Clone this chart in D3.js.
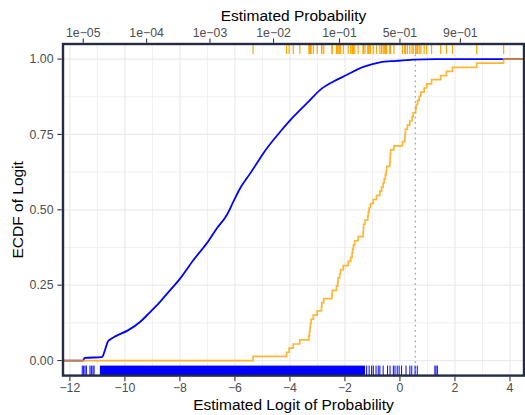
<!DOCTYPE html>
<html>
<head>
<meta charset="utf-8">
<script src="https://cdn.jsdelivr.net/npm/d3@7"></script>
<style>
  html, body { margin: 0; padding: 0; background: #ffffff; }
  svg { display: block; font-family: "Liberation Sans", Arial, Helvetica, sans-serif; }
</style>
</head>
<body>
<svg id="chart" width="525" height="415"></svg>
<script>
// Logit scores of the positive cases (orange)
const orangeLogit = [
  -5.34, -4.12, -4.03, -3.88, -3.64,
  -3.31, -3.29, -3.27, -3.25, -3.23, -3.15, -3.01, -2.85, -2.84, -2.77,
  -2.47, -2.46, -2.31, -2.26, -2.25, -2.19, -2.16, -2.06,
  -1.88, -1.79, -1.74, -1.72, -1.69, -1.64, -1.52,
  -1.34, -1.33, -1.32, -1.27, -1.17, -1.15, -1.12, -1.07, -0.97, -0.85, -0.73,
  -0.67, -0.61, -0.57, -0.53, -0.50, -0.48, -0.37, -0.36, -0.35, -0.34, -0.22,
  0.09, 0.18, 0.19, 0.20, 0.27, 0.36, 0.44, 0.48, 0.57, 0.59, 0.64, 0.70, 0.76,
  0.88, 0.97, 1.15, 1.48, 1.69, 1.91, 2.79, 3.77
];

// Empirical CDF of the negative cases (blue), large sample
const blueCurveLogit = [
  -11.52, -11.46, -10.84, -10.79, -10.72, -10.61, -10.55, -10.33, -9.89, -9.45,
  -9.09, -8.84, -8.73, -8.36, -8.00, -7.52, -7.03, -6.66, -6.30, -6.06,
  -5.82, -5.45, -5.09, -4.97, -4.36, -3.88, -3.27, -2.91, -2.43, -1.94,
  -1.33, -0.73, -0.12, 0.48, 1.31
];
const blueCurveEcdf = [
  0.000, 0.009, 0.011, 0.017, 0.036, 0.064, 0.069, 0.081, 0.100, 0.128,
  0.160, 0.183, 0.194, 0.233, 0.271, 0.332, 0.388, 0.438, 0.482, 0.526,
  0.570, 0.620, 0.670, 0.687, 0.758, 0.808, 0.864, 0.897, 0.925, 0.947,
  0.974, 0.989, 0.994, 0.998, 1.000
];

// Rug of the negative cases: isolated scores and the densely covered stretch
const blueRugTicks = [
  -11.55, -11.50, -11.45, -11.40, -11.27, -11.22, -11.16, -11.12,
  -1.21, -1.12, -1.03, -0.97, -0.87, -0.79, -0.73, -0.61, -0.45, -0.36,
  -0.24, -0.18, -0.10, -0.03, 0.06, 0.22, 0.36, 0.43, 0.55, 0.63, 1.27, 1.31, 1.36
];
const blueRugBands = [[-10.91, -1.27]];

// Axis breaks
const xTicks = [-12, -10, -8, -6, -4, -2, 0, 2, 4];
const xMinor = [-11, -9, -7, -5, -3, -1, 1, 3];
const yTicks = [0, 0.25, 0.5, 0.75, 1];
const yMinor = [0.125, 0.375, 0.625, 0.875];
const yLabels = ["0.00", "0.25", "0.50", "0.75", "1.00"];
const probTicks = [1e-5, 1e-4, 1e-3, 1e-2, 1e-1, 5e-1, 9e-1];
const probLabels = ["1e\u221205", "1e\u221204", "1e\u221203", "1e\u221202", "1e\u221201", "5e\u221201", "9e\u221201"];

// Classification cut-off on the logit scale
const cutoffLogit = 0.56;

const svg = d3.select("#chart");
const panel = { left: 63, right: 524, top: 44, bottom: 375.6 };

const x = d3.scaleLinear().domain([-12.25, 4.51]).range([panel.left, panel.right]);
const y = d3.scaleLinear().domain([-0.05, 1.05]).range([panel.bottom, panel.top]);
const logit = p => Math.log(p / (1 - p));
const minus = s => String(s).replace("-", "\u2212");

const grid = "#ebebeb";
const tickCol = "#333333";
const labelCol = "#4d4d4d";

svg.append("defs").append("clipPath").attr("id", "clip")
  .append("rect")
  .attr("x", panel.left).attr("y", panel.top)
  .attr("width", panel.right - panel.left).attr("height", panel.bottom - panel.top);

// grid
const g = svg.append("g");
g.selectAll(".xmin").data(xMinor).join("line")
  .attr("x1", d => x(d)).attr("x2", d => x(d))
  .attr("y1", panel.top).attr("y2", panel.bottom)
  .attr("stroke", "#f0f0f0").attr("stroke-width", 1);
g.selectAll(".ymin").data(yMinor).join("line")
  .attr("y1", d => y(d)).attr("y2", d => y(d))
  .attr("x1", panel.left).attr("x2", panel.right)
  .attr("stroke", "#f0f0f0").attr("stroke-width", 1);
g.selectAll(".xmaj").data(xTicks).join("line")
  .attr("x1", d => x(d)).attr("x2", d => x(d))
  .attr("y1", panel.top).attr("y2", panel.bottom)
  .attr("stroke", grid).attr("stroke-width", 1.2);
g.selectAll(".ymaj").data(yTicks).join("line")
  .attr("y1", d => y(d)).attr("y2", d => y(d))
  .attr("x1", panel.left).attr("x2", panel.right)
  .attr("stroke", grid).attr("stroke-width", 1.2);

const plot = svg.append("g").attr("clip-path", "url(#clip)");

// cut-off line
plot.append("line")
  .attr("x1", x(cutoffLogit)).attr("x2", x(cutoffLogit))
  .attr("y1", panel.top).attr("y2", panel.bottom)
  .attr("stroke", "#aaaaaa").attr("stroke-width", 1.4)
  .attr("stroke-dasharray", "1.8,3.4");

// blue ECDF (monotone through the read points)
const bluePts = [[x.domain()[0], 0]]
  .concat(blueCurveLogit.map((v, i) => [v, blueCurveEcdf[i]]))
  .concat([[x.domain()[1], 1]]);
plot.append("path")
  .attr("d", d3.line().curve(d3.curveMonotoneX).x(d => x(d[0])).y(d => y(d[1]))(bluePts))
  .attr("fill", "none").attr("stroke", "#0000ff").attr("stroke-width", 1.8)
  .attr("stroke-linejoin", "round");

// orange ECDF (step function)
const sorted = orangeLogit.slice().sort(d3.ascending);
const n = sorted.length;
const uniq = Array.from(new Set(sorted));
const orangePts = [[x.domain()[0], 0]]
  .concat(uniq.map(v => [v, d3.bisectRight(sorted, v) / n]))
  .concat([[x.domain()[1], 1]]);
plot.append("path")
  .attr("d", d3.line().curve(d3.curveStepAfter).x(d => x(d[0])).y(d => y(d[1]))(orangePts))
  .attr("fill", "none").attr("stroke", "#ffa500").attr("stroke-width", 1.7)
  .attr("stroke-opacity", 0.8);

// rugs
const rugLen = 10;
plot.selectAll(".orug").data(orangeLogit).join("line")
  .attr("x1", d => x(d)).attr("x2", d => x(d))
  .attr("y1", panel.top).attr("y2", panel.top + rugLen)
  .attr("stroke", "#ffa500").attr("stroke-width", 1.2);
plot.selectAll(".brug").data(blueRugTicks).join("line")
  .attr("x1", d => x(d)).attr("x2", d => x(d))
  .attr("y1", panel.bottom - rugLen).attr("y2", panel.bottom)
  .attr("stroke", "#0000ff").attr("stroke-width", 1);
plot.selectAll(".bband").data(blueRugBands).join("rect")
  .attr("x", d => x(d[0])).attr("width", d => x(d[1]) - x(d[0]))
  .attr("y", panel.bottom - rugLen).attr("height", rugLen)
  .attr("fill", "#0000ff");

// panel border
svg.append("rect")
  .attr("x", panel.left).attr("y", panel.top)
  .attr("width", panel.right - panel.left).attr("height", panel.bottom - panel.top)
  .attr("fill", "none").attr("stroke", "#232b45").attr("stroke-width", 2.4);

// bottom axis
const tl = 4.4;
const bx = svg.append("g");
bx.selectAll("line").data(xTicks).join("line")
  .attr("x1", d => x(d)).attr("x2", d => x(d))
  .attr("y1", panel.bottom + 1.2).attr("y2", panel.bottom + 1.2 + tl)
  .attr("stroke", tickCol).attr("stroke-width", 1.1);
bx.selectAll("text").data(xTicks).join("text")
  .attr("x", d => x(d)).attr("y", 391.5)
  .attr("text-anchor", "middle").attr("font-size", "12.3px").attr("fill", labelCol)
  .text(d => minus(d));

// top (probability) axis
const tx = svg.append("g");
tx.selectAll("line").data(probTicks).join("line")
  .attr("x1", d => x(logit(d))).attr("x2", d => x(logit(d)))
  .attr("y1", panel.top - 1.2).attr("y2", panel.top - 1.2 - tl)
  .attr("stroke", tickCol).attr("stroke-width", 1.1);
tx.selectAll("text").data(probTicks).join("text")
  .attr("x", d => x(logit(d))).attr("y", 37.2)
  .attr("text-anchor", "middle").attr("font-size", "12.3px").attr("fill", labelCol)
  .text((d, i) => probLabels[i]);

// left axis
const ly = svg.append("g");
ly.selectAll("line").data(yTicks).join("line")
  .attr("y1", d => y(d)).attr("y2", d => y(d))
  .attr("x1", panel.left - 1.2).attr("x2", panel.left - 1.2 - tl)
  .attr("stroke", tickCol).attr("stroke-width", 1.1);
ly.selectAll("text").data(yTicks).join("text")
  .attr("x", 53.5).attr("y", d => y(d)).attr("dy", "0.35em")
  .attr("text-anchor", "end").attr("font-size", "12.3px").attr("fill", labelCol)
  .text((d, i) => yLabels[i]);

// titles
const cx = (panel.left + panel.right) / 2;
svg.append("text").attr("x", cx).attr("y", 20.5)
  .attr("text-anchor", "middle").attr("font-size", "15.5px").attr("fill", "#000")
  .text("Estimated Probability");
svg.append("text").attr("x", cx).attr("y", 409.5)
  .attr("text-anchor", "middle").attr("font-size", "15.5px").attr("fill", "#000")
  .text("Estimated Logit of Probability");
svg.append("text")
  .attr("transform", `translate(22.5,${(panel.top + panel.bottom) / 2}) rotate(-90)`)
  .attr("text-anchor", "middle").attr("font-size", "15.5px").attr("fill", "#000")
  .text("ECDF of Logit");
</script>
</body>
</html>
